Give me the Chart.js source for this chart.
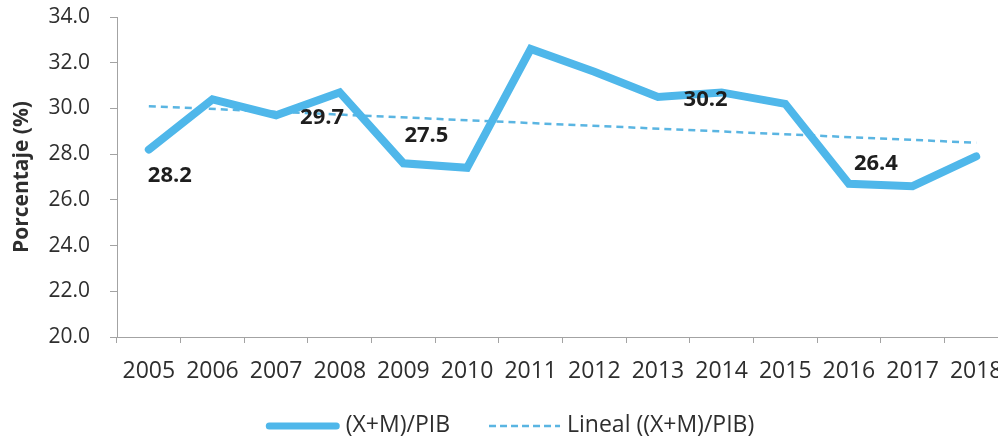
<!DOCTYPE html>
<html>
<head>
<meta charset="utf-8">
<script src="https://cdn.jsdelivr.net/npm/chart.js@4.4.0/dist/chart.umd.min.js"></script>
<style>
html,body{margin:0;padding:0;background:#fff;overflow:hidden;width:998px;height:437px;}
#wrap{position:relative;width:1020px;height:437px;}
canvas{display:block;}
</style>
</head>
<body>
<div id="wrap"><canvas id="c" width="1020" height="437"></canvas></div>
<script>
// ---- data ----
const years = ['2005','2006','2007','2008','2009','2010','2011','2012','2013','2014','2015','2016','2017','2018'];
const ratioValues = [28.2, 30.4, 29.7, 30.7, 27.6, 27.4, 32.6, 31.6, 30.5, 30.7, 30.2, 26.7, 26.6, 27.9];
const trendYears = ['2005','2018'];
const trendValues = [30.1, 28.5];
const yTickValues = [20, 22, 24, 26, 28, 30, 32, 34];
const valueLabels = ['28.2','29.7','27.5','30.2','26.4'];
const valueLabelYears = ['2005','2007','2009','2014','2016'];
const seriesNames = ['(X+M)/PIB','Lineal ((X+M)/PIB)'];
const yAxisTitle = 'Porcentaje (%)';

// ---- styling ----
const FONT = '"Open Sans", "DejaVu Sans", sans-serif';
const lineColor = '#4fb7ea';
const trendColor = '#5ab5e2';
const axisColor = '#a3a3a3';
const textColor = '#2e2e2e';
const labelColor = '#1e1e1e';
// pixel offsets of each value label from its anchor point
const labelOffsets = [[21, 26], [46, 2], [23, -28], [-16, 7], [27, -20]];

const valueLabelPlugin = {
  id: 'valueLabels',
  afterDatasetsDraw(chart) {
    const ctx = chart.ctx;
    const xs = chart.scales.x, ys = chart.scales.y;
    ctx.save();
    ctx.font = 'bold 22px ' + FONT;
    ctx.fillStyle = labelColor;
    ctx.textAlign = 'center';
    ctx.textBaseline = 'middle';
    valueLabels.forEach((txt, i) => {
      const idx = years.indexOf(valueLabelYears[i]);
      const px = xs.getPixelForValue(idx);
      const py = ys.getPixelForValue(ratioValues[idx]);
      ctx.fillText(txt, px + labelOffsets[i][0], py + labelOffsets[i][1]);
    });
    ctx.restore();
  }
};

const legendPlugin = {
  id: 'customLegend',
  afterDraw(chart) {
    const ctx = chart.ctx;
    ctx.save();
    ctx.font = '23px ' + FONT;
    const w1 = ctx.measureText(seriesNames[0]).width;
    const w2 = ctx.measureText(seriesNames[1]).width;
    const sym1 = 74, sym2 = 71, g1 = 6, g2 = 39, g3 = 7;
    const total = sym1 + g1 + w1 + g2 + sym2 + g3 + w2;
    let x = chart.width / 2 - total / 2;
    const y = chart.height - 11;
    ctx.strokeStyle = lineColor;
    ctx.lineWidth = 7;
    ctx.lineCap = 'round';
    ctx.beginPath();
    ctx.moveTo(x + 3.5, y); ctx.lineTo(x + sym1 - 3.5, y); ctx.stroke();
    x += sym1 + g1;
    ctx.fillStyle = textColor;
    ctx.textBaseline = 'middle';
    ctx.textAlign = 'left';
    ctx.fillText(seriesNames[0], x, y - 1);
    x += w1 + g2;
    ctx.strokeStyle = trendColor;
    ctx.lineWidth = 2.5;
    ctx.lineCap = 'butt';
    ctx.setLineDash([7, 4]);
    ctx.beginPath();
    ctx.moveTo(x, y); ctx.lineTo(x + sym2, y); ctx.stroke();
    ctx.setLineDash([]);
    x += sym2 + g3;
    ctx.fillText(seriesNames[1], x, y - 1);
    ctx.restore();
  }
};

const chart = new Chart(document.getElementById('c'), {
  type: 'line',
  data: {
    labels: years,
    datasets: [
      {
        label: seriesNames[0],
        data: ratioValues,
        borderColor: lineColor,
        borderWidth: 8,
        borderCapStyle: 'round',
        borderJoinStyle: 'miter',
        pointRadius: 0,
        tension: 0,
        fill: false
      },
      {
        label: seriesNames[1],
        data: trendYears.map((yr, i) => ({x: yr, y: trendValues[i]})),
        borderColor: trendColor,
        borderWidth: 2.5,
        borderDash: [7, 5],
        pointRadius: 0,
        tension: 0,
        fill: false
      }
    ]
  },
  options: {
    responsive: false,
    devicePixelRatio: 1,
    animation: false,
    layout: { padding: { left: 0, top: 17, right: 12, bottom: 0 } },
    plugins: { legend: { display: false }, tooltip: { enabled: false } },
    scales: {
      x: {
        type: 'category',
        offset: true,
        grid: { display: true, offset: true, drawOnChartArea: false, drawTicks: true, tickLength: 6, color: axisColor },
        border: { display: true, color: axisColor, width: 1 },
        ticks: { font: { family: FONT, size: 23 }, color: textColor, padding: 15, maxRotation: 0, autoSkip: false },
        afterFit(s) { s.height = 100; }
      },
      y: {
        min: 20,
        max: 34,
        afterBuildTicks(s) { s.ticks = yTickValues.map(v => ({ value: v })); },
        grid: { display: true, drawOnChartArea: false, drawTicks: true, tickLength: 7, color: axisColor },
        border: { display: true, color: axisColor, width: 1 },
        ticks: { font: { family: FONT, size: 21 }, color: textColor, padding: 20, callback: v => Number(v).toFixed(1) },
        title: { display: true, text: yAxisTitle, font: { family: FONT, size: 21, weight: 'bold' }, color: textColor, padding: { top: 9, bottom: 0 } },
        afterFit(s) { s.width = 117; s.paddingTop = 0; s.paddingBottom = 0; }
      }
    }
  },
  plugins: [valueLabelPlugin, legendPlugin]
});
if (document.fonts && document.fonts.ready) {
  document.fonts.ready.then(() => chart.update('none'));
}
</script>
</body>
</html>
